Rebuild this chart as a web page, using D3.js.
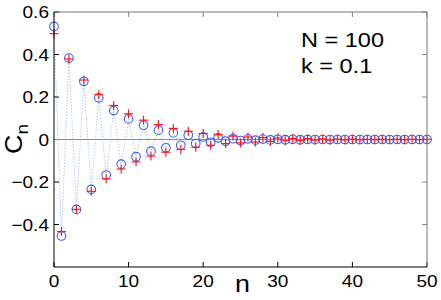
<!DOCTYPE html>
<html>
<head>
<meta charset="utf-8">
<script src="https://cdn.jsdelivr.net/npm/d3@7"></script>
<style>
  body { margin: 0; background: #fff; }
  text { font-family: "Liberation Sans", Arial, sans-serif; fill: #000; }
</style>
</head>
<body>
<svg id="chart" width="441" height="300"></svg>
<script>
// n = 0..50
let nValues = d3.range(0, 51)
// blue circles
let circleValues = [0.532, -0.454, 0.383, -0.329, 0.274, -0.235, 0.196, -0.167, 0.136, -0.116,
    0.097, -0.081, 0.067, -0.055, 0.044, -0.039, 0.031, -0.027, 0.020, -0.019,
    0.012, -0.013, 0.008, -0.008, 0.004, -0.005, 0.003, -0.003, 0.002, -0.002,
    0.001, -0.001, 0.001, -0.001, 0, 0, 0, 0, 0, 0,
    0, 0, 0, 0, 0, 0, 0, 0, 0, 0, 0]
// red plus markers
let plusValues = [0.498, -0.433, 0.379, -0.329, 0.280, -0.244, 0.211, -0.185, 0.160, -0.139,
    0.121, -0.105, 0.091, -0.078, 0.070, -0.060, 0.052, -0.047, 0.039, -0.036,
    0.028, -0.027, 0.023, -0.019, 0.016, -0.016, 0.012, -0.012, 0.009, -0.009,
    0.007, -0.006, 0.005, -0.005, 0.004, -0.003, 0.003, -0.003, 0.002, -0.002,
    0.002, -0.002, 0.001, -0.001, 0.001, -0.001, 0.001, -0.001, 0.001, -0.001, 0.001]
let xTicks = [0, 10, 20, 30, 40, 50]
let yTicks = [-0.4, -0.2, 0, 0.2, 0.4, 0.6]
let annotation = ["N = 100", "k = 0.1"]

let margin = { top: 12, right: 14, bottom: 33, left: 54 }
let width = 441
let height = 300
let stretch = 1.12

let svg = d3.select("#chart")

let x = d3.scaleLinear()
    .domain([0, 50])
    .range([margin.left, width - margin.right])

let y = d3.scaleLinear()
    .domain([-0.6, 0.6])
    .range([height - margin.bottom, margin.top])

let data = nValues.map((n, i) => ({ n: n, c: circleValues[i], p: plusValues[i] }))

// box ticks pointing inward, all four sides
let tickLen = 5
let axes = svg.append("g").attr("stroke", "#000").attr("stroke-width", 1)
xTicks.forEach(t => {
    axes.append("line").attr("x1", x(t)).attr("x2", x(t))
        .attr("y1", y(-0.6)).attr("y2", y(-0.6) - tickLen)
    axes.append("line").attr("x1", x(t)).attr("x2", x(t))
        .attr("y1", y(0.6)).attr("y2", y(0.6) + tickLen)
        .attr("stroke", "#888")
})
yTicks.forEach(t => {
    axes.append("line").attr("x1", x(0)).attr("x2", x(0) + tickLen)
        .attr("y1", y(t)).attr("y2", y(t))
    axes.append("line").attr("x1", x(50)).attr("x2", x(50) - tickLen)
        .attr("y1", y(t)).attr("y2", y(t))
        .attr("stroke", "#888")
})

// zero line
svg.append("line")
    .attr("x1", x(0)).attr("x2", x(50))
    .attr("y1", y(0)).attr("y2", y(0))
    .style("stroke", "#7088ff")
    .style("stroke-width", "1px")

// dotted line through circles
let line = d3.line()
    .x(d => x(d.n))
    .y(d => y(d.c))

svg.append("path")
    .attr("d", line(data))
    .style("fill", "none")
    .style("stroke", "#7d93ff")
    .style("stroke-width", "0.8px")
    .style("stroke-dasharray", "1,2")

svg.append("g")
    .selectAll("circle")
    .data(data)
    .join("circle")
    .attr("cx", d => x(d.n))
    .attr("cy", d => y(d.c))
    .attr("r", 4.3)
    .style("fill", "none")
    .style("stroke", "#3a5cff")
    .style("stroke-width", "1.1px")

let plusSize = 4.5
let pluses = svg.append("g")
    .selectAll("g")
    .data(data)
    .join("g")
    .attr("transform", d => `translate(${x(d.n)},${y(d.p)})`)
    .style("stroke", "#ff1a1a")
    .style("stroke-width", "1.2px")
pluses.append("line").attr("x1", -plusSize).attr("x2", plusSize)
pluses.append("line").attr("y1", -plusSize).attr("y2", plusSize)

// box
svg.append("path")
    .attr("d", `M${x(0)},${y(0.6)}H${x(50)}V${y(-0.6)}`)
    .style("fill", "none")
    .style("stroke", "#777")
    .style("stroke-width", "1px")
svg.append("path")
    .attr("d", `M${x(0)},${y(0.6)}V${y(-0.6)}H${x(50)}`)
    .style("fill", "none")
    .style("stroke", "#000")
    .style("stroke-width", "1px")

function label(tx, ty, str, size, anchor) {
    return svg.append("text")
        .attr("transform", `translate(${tx},${ty}) scale(${stretch},1)`)
        .attr("text-anchor", anchor)
        .style("font-size", size + "px")
        .text(str)
}

xTicks.forEach(t => label(x(t), 287, d3.format("")(t), 17, "middle"))
yTicks.forEach(t => label(x(0) - 5, y(t) + 6, d3.format("")(t).replace("-", "\u2212"), 17, "end"))

label(235, 292, "n", 24, "start")

// y label C_n
let yl = svg.append("text")
    .attr("transform", `translate(22,154) rotate(-90) scale(${stretch},1)`)
    .style("font-size", "24px")
yl.append("tspan").text("C")
yl.append("tspan").attr("dy", 6).style("font-size", "17px").text("n")

label(301, 47, annotation[0], 21, "start")
label(301, 73, annotation[1], 21, "start")
</script>
</body>
</html>
